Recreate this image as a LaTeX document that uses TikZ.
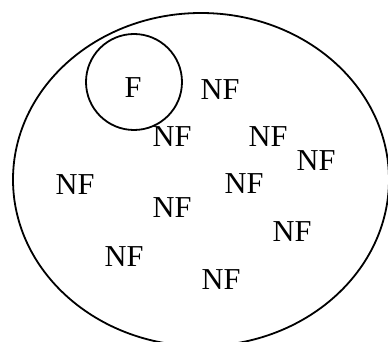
\documentclass[tikz,border=0pt]{standalone}
\usepackage{fontspec}
\setmainfont{Liberation Serif}
\usepackage{tikz}

\begin{document}
\begin{tikzpicture}[x=0.5pt, y=-0.5pt, line width=0.9pt,
        lbl/.style={inner sep=0pt, font=\fontsize{15.2}{15.2}\selectfont}]
        \useasboundingbox (0,0) rectangle (388,342);
        \clip (0,0) rectangle (388,342);
        \draw (201,179.6) ellipse [x radius=188, y radius=166.6];
        \draw (134,82) circle [radius=48];
        \node[lbl] (f) at (133,88) {F};
        \node[lbl] (nf1) at (220,90) {NF};
        \node[lbl] (nf2) at (172,137) {NF};
        \node[lbl] (nf3) at (268,137) {NF};
        \node[lbl] (nf4) at (316,161) {NF};
        \node[lbl] (nf5) at (75,185) {NF};
        \node[lbl] (nf6) at (244,184) {NF};
        \node[lbl] (nf7) at (172,208) {NF};
        \node[lbl] (nf8) at (292,232) {NF};
        \node[lbl] (nf9) at (124,257) {NF};
        \node[lbl] (nf10) at (221,280) {NF};
    \end{tikzpicture}
\end{document}
